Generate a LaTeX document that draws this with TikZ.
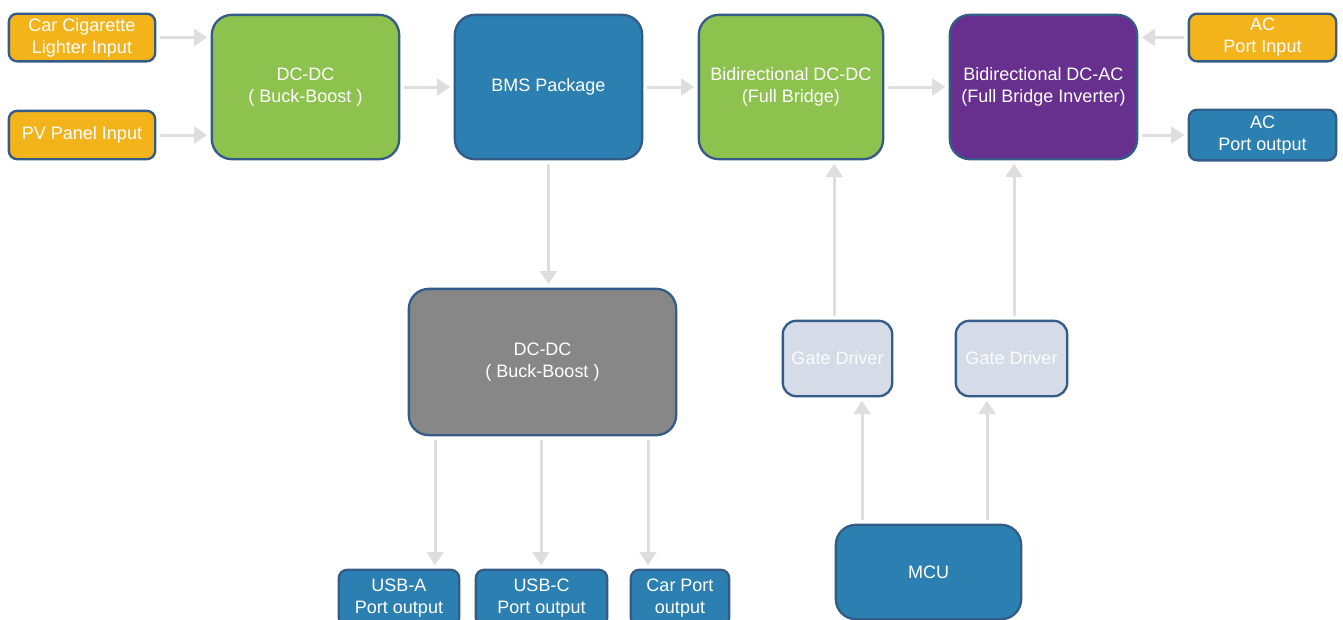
\documentclass[tikz,border=0pt]{standalone}
\usepackage{fontspec}
\setmainfont{Liberation Sans}
\usetikzlibrary{arrows.meta,positioning}

\definecolor{inorange}{HTML}{F3B31B}
\definecolor{convgreen}{HTML}{8DC24F}
\definecolor{portblue}{HTML}{2C80B1}
\definecolor{invpurple}{HTML}{67308F}
\definecolor{convgray}{HTML}{878787}
\definecolor{gatefill}{HTML}{D5DCE7}
\definecolor{edgeblue}{HTML}{355B88}
\definecolor{flowgray}{HTML}{DEDEDE}

\tikzstyle{block} = [draw=edgeblue, line width=1.4pt, rounded corners=12pt, text=white, align=center, inner sep=2pt, font=\fontsize{10.8}{13.2}\selectfont]
\tikzstyle{port} = [block, rounded corners=5pt]
\tikzstyle{flow} = [draw=flowgray, line width=1.8pt, shorten <=2pt, shorten >=2pt, -{Triangle[width=10pt,length=8pt]}]

\begin{document}
\begin{tikzpicture}[x=0.6pt, y=-0.6pt]
	\useasboundingbox (0,0) rectangle (1343,619);
	\clip (0,0) rectangle (1343,619);
	% inputs
	\node[port, fill=inorange, minimum width=87.8pt, minimum height=28.6pt] (carin) at (82,37.5) {Car Cigarette\\Lighter Input};
	\node[port, fill=inorange, minimum width=87.8pt, minimum height=29pt] (pvin) at (82,135) {PV Panel Input};
	% power chain
	\node[block, fill=convgreen, minimum width=112.4pt, minimum height=86.6pt] (dcdc1) at (305.5,87) {DC-DC\\( Buck-Boost )};
	\node[block, fill=portblue, minimum width=112.4pt, minimum height=86.6pt] (bms) at (548.5,87) {BMS Package};
	\node[block, fill=convgreen, minimum width=110.6pt, minimum height=86.6pt] (bidc) at (791,87) {Bidirectional DC-DC\\(Full Bridge)};
	\node[block, fill=invpurple, minimum width=112.4pt, minimum height=86.6pt] (dcac) at (1043.5,87) {Bidirectional DC-AC\\(Full Bridge Inverter)};
	\node[port, fill=inorange, minimum width=88.4pt, minimum height=28.6pt] (acin) at (1262.5,37.5) {AC\\Port Input};
	\node[port, fill=portblue, minimum width=88.4pt, minimum height=30.4pt] (acout) at (1262.5,135) {AC\\Port output};
	% low voltage side
	\node[block, fill=convgray, minimum width=160.4pt, minimum height=87.8pt] (dcdc2) at (542.5,362) {DC-DC\\( Buck-Boost )};
	\node[port, fill=portblue, minimum width=72.2pt, minimum height=33.8pt] (usba) at (399,598) {USB-A\\Port output};
	\node[port, fill=portblue, minimum width=78.8pt, minimum height=33.8pt] (usbc) at (541.5,598) {USB-C\\Port output};
	\node[port, fill=portblue, minimum width=59pt, minimum height=33.8pt] (carport) at (680,598) {Car Port\\output};
	% control
	\node[port, rounded corners=8pt, fill=gatefill, text=white!92!gatefill, minimum width=65.6pt, minimum height=45.2pt] (gd1) at (837.5,358.5) {Gate Driver};
	\node[port, rounded corners=8pt, fill=gatefill, text=white!92!gatefill, minimum width=66.8pt, minimum height=45.2pt] (gd2) at (1011.5,358.5) {Gate Driver};
	\node[block, fill=portblue, minimum width=111.2pt, minimum height=56.6pt] (mcu) at (928.5,572) {MCU};

	\draw[flow] (carin) -- (carin -| dcdc1.west);
	\draw[flow] (pvin) -- (pvin -| dcdc1.west);
	\draw[flow] (dcdc1) -- (bms);
	\draw[flow] (bms) -- (bidc);
	\draw[flow] (bidc) -- (dcac);
	\draw[flow] (acin) -- (acin -| dcac.east);
	\draw[flow] (dcac.east |- acout) -- (acout);
	\draw[flow] (bms) -- (bms |- dcdc2.north);
	\coordinate (outa) at ([xshift=-64.5pt]dcdc2.south);
	\coordinate (outc) at ([xshift=-0.9pt]dcdc2.south);
	\coordinate (outp) at ([xshift=63.3pt]dcdc2.south);
	\draw[flow] (outa) -- (outa |- usba.north);
	\draw[flow] (outc) -- (outc |- usbc.north);
	\draw[flow] (outp) -- (outp |- carport.north);
	\draw[flow] ([xshift=-2pt]gd1.north) -- ([xshift=-2pt]gd1.north |- bidc.south);
	\draw[flow] ([xshift=1.5pt]gd2.north) -- ([xshift=1.5pt]gd2.north |- dcac.south);
	\coordinate (mcua) at ([xshift=-39.9pt]mcu.north);
	\coordinate (mcub) at ([xshift=35.1pt]mcu.north);
	\draw[flow] (mcua) -- (mcua |- gd1.south);
	\draw[flow] (mcub) -- (mcub |- gd2.south);
\end{tikzpicture}
\end{document}
